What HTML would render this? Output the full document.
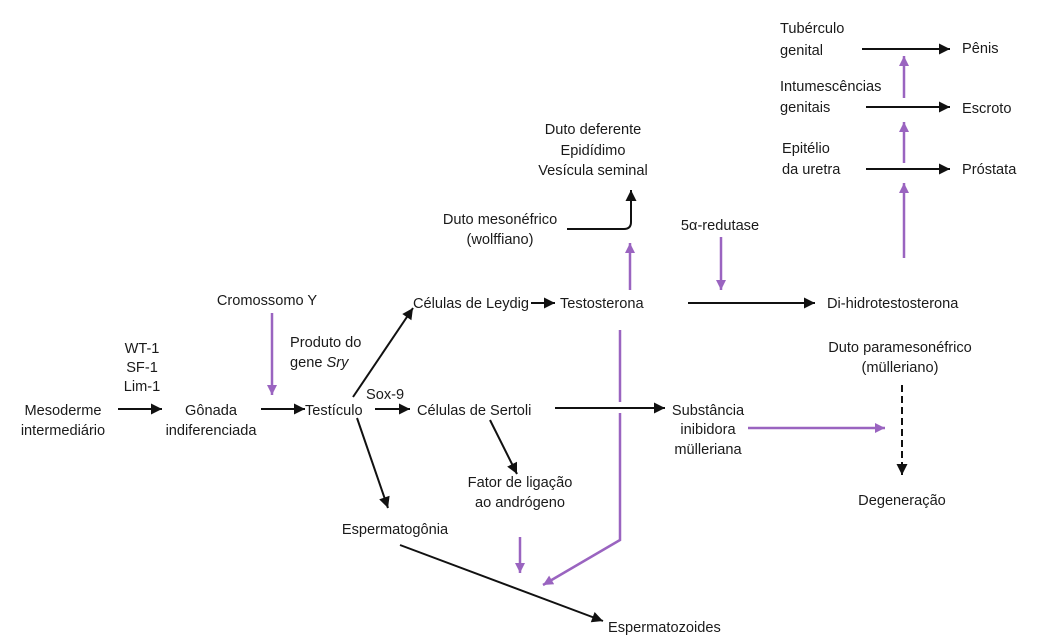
<!DOCTYPE html>
<html><head><meta charset="utf-8"><style>
body{margin:0;background:#fff}
svg{display:block}
text{font-family:"Liberation Sans",Arial,sans-serif;font-size:14.6px;fill:#1a1a1a}
</style></head><body>
<svg width="1046" height="636" viewBox="0 0 1046 636" xmlns="http://www.w3.org/2000/svg">
<defs>
<marker id="a" viewBox="0 0 10 10" refX="10" refY="5" markerWidth="18" markerHeight="11" markerUnits="userSpaceOnUse" orient="auto"><path d="M0,0L10,5L0,10z" fill="#111"/></marker>
<marker id="p" viewBox="0 0 10 10" refX="10" refY="5" markerWidth="16" markerHeight="10" markerUnits="userSpaceOnUse" orient="auto"><path d="M0,0L10,5L0,10z" fill="#9a64c0"/></marker>
</defs>
<g stroke="#111" stroke-width="2" fill="none" marker-end="url(#a)">
<line x1="862" y1="49" x2="950" y2="49"/>
<line x1="866" y1="107" x2="950" y2="107"/>
<line x1="866" y1="169" x2="950" y2="169"/>
<path d="M567,229 H624 Q631,229 631,222 V190" marker-end="url(#a)"/>
<line x1="531" y1="303" x2="555" y2="303"/>
<line x1="688" y1="303" x2="815" y2="303"/>
<line x1="118" y1="409" x2="162" y2="409"/>
<line x1="261" y1="409" x2="305" y2="409"/>
<line x1="375" y1="409" x2="410" y2="409"/>
<line x1="555" y1="408" x2="665" y2="408"/>
<line x1="353" y1="397" x2="413" y2="308"/>
<line x1="357" y1="418" x2="388" y2="508"/>
<line x1="490" y1="420" x2="517" y2="474"/>
<line x1="400" y1="545" x2="603" y2="621"/>
<line x1="902" y1="385" x2="902" y2="475" stroke-dasharray="7,4"/>
</g>
<g stroke="#9a64c0" stroke-width="2.5" fill="none" marker-end="url(#p)">
<line x1="904" y1="258" x2="904" y2="183"/>
<line x1="904" y1="163" x2="904" y2="122"/>
<line x1="904" y1="98" x2="904" y2="56"/>
<line x1="630" y1="290" x2="630" y2="243"/>
<line x1="721" y1="237" x2="721" y2="290"/>
<line x1="272" y1="313" x2="272" y2="395"/>
<line x1="748" y1="428" x2="885" y2="428"/>
<line x1="520" y1="537" x2="520" y2="573"/>
<path d="M620,413 V540 L543,585"/>
</g>
<line x1="620" y1="330" x2="620" y2="402" stroke="#9a64c0" stroke-width="2.5"/>
<g>
<text x="780" y="33">Tubérculo</text><text x="780" y="55">genital</text>
<text x="962" y="53">Pênis</text>
<text x="780" y="91">Intumescências</text><text x="780" y="112">genitais</text>
<text x="962" y="113">Escroto</text>
<text x="782" y="153">Epitélio</text><text x="782" y="174">da uretra</text>
<text x="962" y="174">Próstata</text>
</g>
<g text-anchor="middle">
<text x="593" y="134">Duto deferente</text>
<text x="593" y="155">Epidídimo</text>
<text x="593" y="175">Vesícula seminal</text>
<text x="500" y="224">Duto mesonéfrico</text>
<text x="500" y="244">(wolffiano)</text>
<text x="720" y="230">5α-redutase</text>
<text x="267" y="305">Cromossomo Y</text>
<text x="142" y="353">WT-1</text>
<text x="142" y="372">SF-1</text>
<text x="142" y="391">Lim-1</text>
<text x="63" y="415">Mesoderme</text>
<text x="63" y="435">intermediário</text>
<text x="211" y="415">Gônada</text>
<text x="211" y="435">indiferenciada</text>
<text x="708" y="415">Substância</text>
<text x="708" y="434">inibidora</text>
<text x="708" y="454">mülleriana</text>
<text x="900" y="352">Duto paramesonéfrico</text>
<text x="900" y="372">(mülleriano)</text>
<text x="902" y="505">Degeneração</text>
<text x="520" y="487">Fator de ligação</text>
<text x="520" y="507">ao andrógeno</text>
<text x="395" y="534">Espermatogônia</text>
</g>
<text x="413" y="308">Células de Leydig</text>
<text x="560" y="308">Testosterona</text>
<text x="827" y="308">Di-hidrotestosterona</text>
<text x="290" y="347">Produto do</text>
<text x="290" y="367">gene <tspan font-style="italic">Sry</tspan></text>
<text x="366" y="399">Sox-9</text>
<text x="305" y="415">Testículo</text>
<text x="417" y="415">Células de Sertoli</text>
<text x="608" y="632">Espermatozoides</text>
</svg>
</body></html>
